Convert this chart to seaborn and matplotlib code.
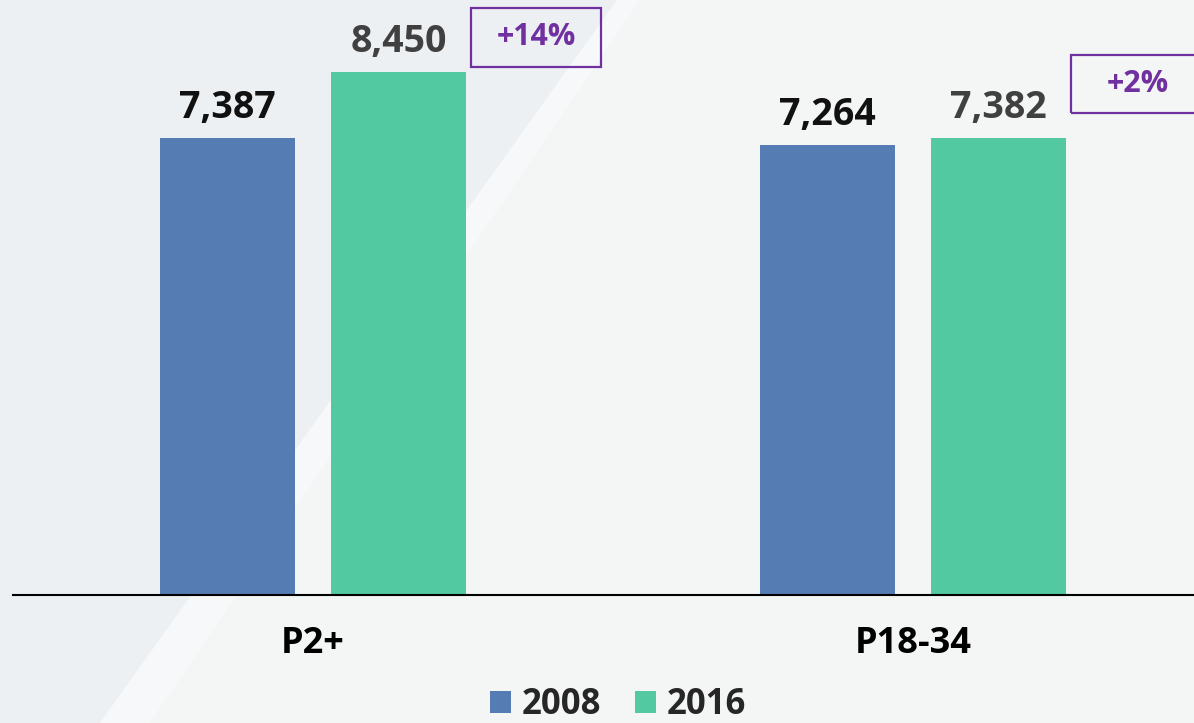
import matplotlib
matplotlib.use("Agg")
import matplotlib.pyplot as plt
from matplotlib.patches import Rectangle, Polygon
import seaborn as sns
import pandas as pd

# data
groups = ["P2+", "P18-34"]
years = ["2008", "2016"]
values_2008 = [7387, 7264]
values_2016 = [8450, 7382]
changes = ["+14%", "+2%"]

colors = {"2008": "#557CB3", "2016": "#52C9A0"}
label_colors = {"2008": "#111111", "2016": "#404040"}
purple = "#7030A0"

df = pd.DataFrame({
    "group": groups * 2,
    "year": [years[0]] * len(groups) + [years[1]] * len(groups),
    "value": values_2008 + values_2016,
})

sns.set_style("white")
plt.rcParams["font.family"] = ["Open Sans", "DejaVu Sans"]

W, H = 1194, 723
fig = plt.figure(figsize=(W / 100, H / 100), dpi=100)
fig.patch.set_facecolor("#EDF0F3")

# faint background shapes (diagonal split like the slide template)
def fx(x): return x / W
def fy(y): return 1 - y / H
fig.patches.append(Polygon([(fx(617), fy(0)), (fx(W), fy(0)), (fx(W), fy(H)), (fx(100), fy(H))],
                           closed=True, transform=fig.transFigure, facecolor="#F4F5F5",
                           edgecolor="none", zorder=-2))
fig.patches.append(Polygon([(fx(617), fy(0)), (fx(640), fy(0)), (fx(150), fy(H)), (fx(100), fy(H))],
                           closed=True, transform=fig.transFigure, facecolor="#F7F8F9",
                           edgecolor="none", zorder=-1))

ax = fig.add_axes([13 / W, (H - 595) / H, (W - 13) / W, 595 / H])
ax.set_facecolor("none")

sns.barplot(data=df, x="group", y="value", hue="year", order=groups, hue_order=years,
            palette=colors, width=0.57, gap=0.21, saturation=1, linewidth=0,
            ax=ax, legend=True)

ax.set_xlim(-0.5, 1.468)
ax.set_ylim(0, 9610)

# value labels
for container, yr in zip(ax.containers, years):
    for bar in container:
        ax.annotate(f"{bar.get_height():,.0f}",
                    (bar.get_x() + bar.get_width() / 2, bar.get_height()),
                    xytext=(0, 14.4), textcoords="offset points",
                    ha="center", va="baseline", fontsize=27, fontweight="bold",
                    color=label_colors[yr])

# change boxes: (x0, x1, y0, y1) in data units, relative to group index
box_pos = [(0.263, 0.48, 8531, 9484), (0.263, 0.49, 7788, 8725)]
text_x = [0.3715, 0.375]
for i, (txt, (x0, x1, y0, y1)) in enumerate(zip(changes, box_pos)):
    ax.add_patch(Rectangle((i + x0, y0), x1 - x0, y1 - y0, fill=False,
                           edgecolor=purple, linewidth=1.6, clip_on=False))
    ax.text(i + text_x[i], (y0 + y1) / 2, txt, ha="center", va="center",
            fontsize=22, fontweight="bold", color=purple)

for s in ["top", "right", "left"]:
    ax.spines[s].set_visible(False)
ax.spines["bottom"].set_color("black")
ax.spines["bottom"].set_linewidth(1.5)
ax.set_yticks([])
ax.set_xlabel("")
ax.set_ylabel("")
ax.tick_params(axis="x", length=0, pad=22)
for lbl in ax.get_xticklabels():
    lbl.set_fontsize(26)
    lbl.set_fontweight("bold")
    lbl.set_color("black")

handles, labels = ax.get_legend_handles_labels()
ax.get_legend().remove()
fig.legend(handles, labels, loc="center", bbox_to_anchor=(618 / W, fy(705)), ncol=2,
           frameon=False, handlelength=0.6, handleheight=0.6, handletextpad=0.3,
           columnspacing=1.0, prop={"size": 25, "weight": "bold"})

fig.savefig("out.png", dpi=100, facecolor=fig.get_facecolor())
